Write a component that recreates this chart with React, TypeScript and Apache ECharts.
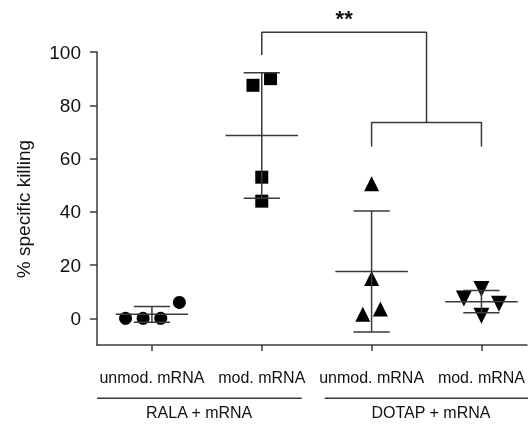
import React, { useEffect, useRef } from "react";
import * as echarts from "echarts";

const categories = ["unmod. mRNA", "mod. mRNA", "unmod. mRNA", "mod. mRNA"];
const groupLabels = ["RALA + mRNA", "DOTAP + mRNA"];
const yTicks = [0, 20, 40, 60, 80, 100];

// % specific killing, one array per group
const ralaUnmodValues = [0, 0, 0, 6];
const ralaModValues = [87.5, 90, 53, 44];
const dotapUnmodValues = [50.5, 15, 1.5, 3.5];
const dotapModValues = [11, 7.5, 5.5, 1];

// horizontal scatter of the points around their category (category units)
const ralaUnmodJitter = [-0.24, -0.08, 0.08, 0.25];
const ralaModJitter = [-0.08, 0.08, 0, 0];
const dotapUnmodJitter = [0, 0, -0.08, 0.08];
const dotapModJitter = [0, -0.16, 0.16, 0];

const groups = [
  { values: ralaUnmodValues, jitter: ralaUnmodJitter, symbol: "circle", size: 13, rotate: 0 },
  { values: ralaModValues, jitter: ralaModJitter, symbol: "rect", size: 13, rotate: 0 },
  { values: dotapUnmodValues, jitter: dotapUnmodJitter, symbol: "triangle", size: 15, rotate: 0 },
  { values: dotapModValues, jitter: dotapModJitter, symbol: "triangle", size: 16, rotate: 180 },
];

const LINE = "#3a3a3a";
const TEXT = "#111";
const FONT = "Liberation Sans, Arial, sans-serif";

function meanSd(v: number[]) {
  const m = v.reduce((a, b) => a + b, 0) / v.length;
  const sd = Math.sqrt(v.reduce((a, b) => a + (b - m) * (b - m), 0) / (v.length - 1));
  return [m, m - sd, m + sd];
}

export default function App() {
  const ref = useRef<HTMLDivElement>(null);
  useEffect(() => {
    if (!ref.current) return;
    const chart = echarts.init(ref.current, null, { renderer: "svg" });

    const pointSeries = groups.map((g, i) => ({
      type: "scatter",
      data: g.values.map((v, j) => [i + 1 + g.jitter[j], v]),
      symbol: g.symbol,
      symbolSize: g.size,
      symbolRotate: g.rotate,
      itemStyle: { color: "#000", opacity: 1 },
      z: 3,
      silent: true,
    }));

    const summary = groups.map((g, i) => [i + 1, ...meanSd(g.values)]);

    const errorSeries = {
      type: "custom",
      data: summary,
      encode: { x: 0, y: [1, 2, 3] },
      z: 4,
      silent: true,
      renderItem: (params: any, api: any) => {
        const x = api.value(0);
        const pm = api.coord([x, api.value(1)]);
        const plo = api.coord([x, api.value(2)]);
        const phi = api.coord([x, api.value(3)]);
        const wm = api.size([0.33, 0])[0];
        const wc = api.size([0.165, 0])[0];
        const style = { stroke: LINE, lineWidth: 1.5 };
        return {
          type: "group",
          children: [
            { type: "line", shape: { x1: pm[0] - wm, y1: pm[1], x2: pm[0] + wm, y2: pm[1] }, style },
            { type: "line", shape: { x1: plo[0], y1: plo[1], x2: phi[0], y2: phi[1] }, style },
            { type: "line", shape: { x1: phi[0] - wc, y1: phi[1], x2: phi[0] + wc, y2: phi[1] }, style },
            { type: "line", shape: { x1: plo[0] - wc, y1: plo[1], x2: plo[0] + wc, y2: plo[1] }, style },
          ],
        };
      },
    };

    const bracketLine = (data: number[][]) => ({
      type: "line",
      data,
      symbol: "none",
      clip: false,
      silent: true,
      lineStyle: { color: LINE, width: 1.5 },
      z: 2,
    });

    const textSeries = (data: any[], fontSize: number, fontWeight = "normal") => ({
      type: "scatter",
      data,
      symbolSize: 0,
      clip: false,
      silent: true,
      itemStyle: { opacity: 1 },
      label: {
        show: true,
        position: "inside",
        formatter: (p: any) => p.data[2],
        color: TEXT,
        opacity: 1,
        fontSize,
        fontWeight,
        fontFamily: FONT,
      },
    });

    chart.setOption({
      animation: false,
      grid: { left: 97, right: 0, top: 52, bottom: 85 },
      xAxis: {
        type: "value",
        min: 0.5,
        max: 4.415,
        splitLine: { show: false },
        axisLine: { show: true, onZero: false, lineStyle: { color: LINE, width: 1.5 } },
        axisTick: { show: true, length: 6, customValues: [1, 2, 3, 4], lineStyle: { color: LINE, width: 1.5 } },
        axisLabel: {
          customValues: [1, 2, 3, 4],
          formatter: (v: number) => categories[Math.round(v) - 1],
          margin: 24,
          fontSize: 16,
          color: TEXT,
          fontFamily: FONT,
        },
      },
      yAxis: {
        type: "value",
        min: -10,
        max: 100,
        splitLine: { show: false },
        axisLine: { show: true, onZero: false, lineStyle: { color: LINE, width: 1.5 } },
        axisTick: { show: true, length: 7, customValues: yTicks, lineStyle: { color: LINE, width: 1.5 } },
        axisLabel: {
          customValues: yTicks,
          margin: 16,
          fontSize: 19,
          color: TEXT,
          fontFamily: FONT,
        },
      },
      graphic: [
        {
          type: "text",
          x: 23,
          y: 209,
          rotation: Math.PI / 2,
          style: {
            text: "% specific killing",
            fontSize: 19,
            fontFamily: FONT,
            fill: TEXT,
            align: "center",
            verticalAlign: "middle",
          },
        },
      ],
      series: [
        ...pointSeries,
        errorSeries,
        bracketLine([[2, 98.9], [2, 107.4], [3.5, 107.4], [3.5, 73.5]]),
        bracketLine([[3, 64.5], [3, 73.5], [4, 73.5], [4, 64.5]]),
        bracketLine([[0.5, -30], [2.364, -30]]),
        bracketLine([[2.573, -30], [4.5, -30]]),
        textSeries([[2.75, 112.6, "**"]], 22, "bold"),
        textSeries(
          [
            [1.43, -35.4, groupLabels[0]],
            [3.54, -35.4, groupLabels[1]],
          ],
          16
        ),
      ],
    });
    return () => chart.dispose();
  }, []);
  return <div ref={ref} style={{ position: "fixed", left: 0, top: 0, width: 528, height: 430 }} />;
}
